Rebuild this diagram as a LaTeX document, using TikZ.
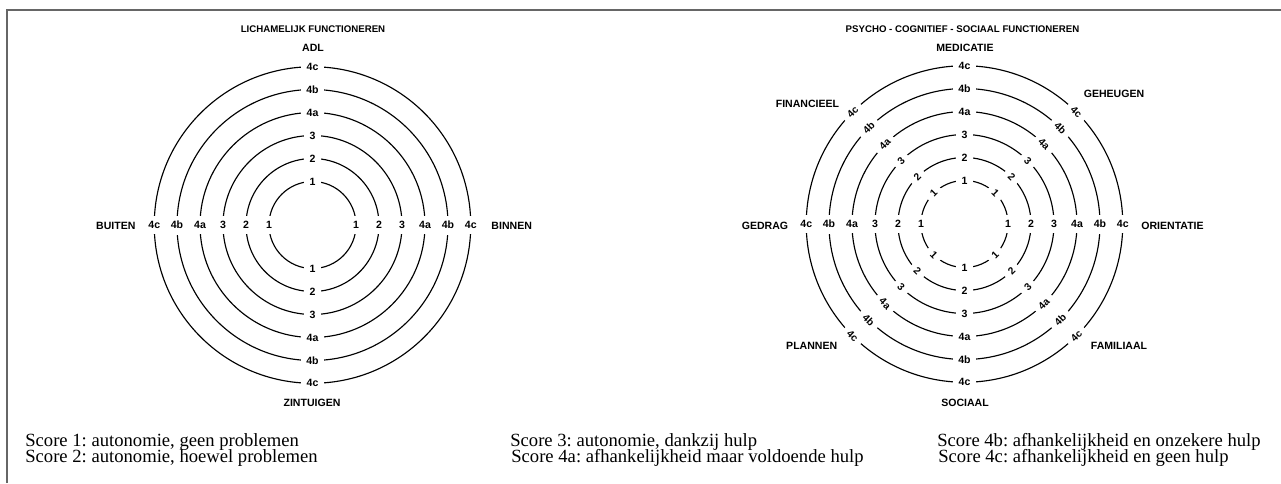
\documentclass[tikz,border=0pt]{standalone}
\usepackage{fontspec}
\setmainfont{Liberation Serif}
\newfontfamily\lblfont{Liberation Sans}
\frenchspacing

\begin{document}
\begin{tikzpicture}
\tikzstyle{sc}=[fill=white,inner sep=3.2pt,font=\lblfont\bfseries\fontsize{6}{7}\selectfont]
\tikzstyle{dg}=[sc,font=\lblfont\bfseries\fontsize{5.8}{6.5}\selectfont]
\tikzstyle{cat}=[inner sep=1pt,font=\lblfont\bfseries\fontsize{6}{7}\selectfont]
\tikzstyle{ttl}=[inner sep=1pt,font=\lblfont\bfseries\fontsize{5.5}{6.5}\selectfont]
\tikzstyle{leg}=[anchor=base west,inner sep=0pt,text height=6.9pt,text depth=2.2pt,font=\fontsize{10.6}{12}\selectfont]
\tikzstyle{ring}=[line width=0.65pt]
\useasboundingbox (0,0) rectangle (25.62,-9.66);
\draw[gray!80!black,line width=0.6pt] (0.14,-9.66) -- (0.14,-0.2) -- (25.62,-0.2);

% lichamelijk
\begin{scope}[shift={(6.25,-4.5)}]
\draw[ring] (0,0) circle (0.87); \draw[ring] (0,0) circle (1.33); \draw[ring] (0,0) circle (1.79);
\draw[ring] (0,0) circle (2.25); \draw[ring] (0,0) circle (2.71); \draw[ring] (0,0) circle (3.165);
\node (a1) at (90:0.87) [sc]{1}; \node (a2) at (0:0.87) [sc]{1}; \node (a3) at (270:0.87) [sc]{1}; \node (a4) at (180:0.87) [sc]{1};
\node (a5) at (90:1.33) [sc]{2}; \node (a6) at (0:1.33) [sc]{2}; \node (a7) at (270:1.33) [sc]{2}; \node (a8) at (180:1.33) [sc]{2};
\node (a9) at (90:1.79) [sc]{3}; \node (a10) at (0:1.79) [sc]{3}; \node (a11) at (270:1.79) [sc]{3}; \node (a12) at (180:1.79) [sc]{3};
\node (a13) at (90:2.25) [sc]{4a}; \node (a14) at (0:2.25) [sc]{4a}; \node (a15) at (270:2.25) [sc]{4a}; \node (a16) at (180:2.25) [sc]{4a};
\node (a17) at (90:2.71) [sc]{4b}; \node (a18) at (0:2.71) [sc]{4b}; \node (a19) at (270:2.71) [sc]{4b}; \node (a20) at (180:2.71) [sc]{4b};
\node (a21) at (90:3.165) [sc]{4c}; \node (a22) at (0:3.165) [sc]{4c}; \node (a23) at (270:3.165) [sc]{4c}; \node (a24) at (180:3.165) [sc]{4c};
\end{scope}

\node (t1) at (6.26,-0.586) [ttl]{LICHAMELIJK FUNCTIONEREN};
\node (adl) at (6.26,-0.954) [cat]{ADL};
\node (buiten) at (2.316,-4.514) [cat]{BUITEN};
\node (binnen) at (10.234,-4.514) [cat]{BINNEN};
\node (zint) at (6.24,-8.066) [cat]{ZINTUIGEN};

% psycho - cognitief - sociaal
\begin{scope}[shift={(19.29,-4.48)}]
\draw[ring] (0,0) circle (0.87); \draw[ring] (0,0) circle (1.33); \draw[ring] (0,0) circle (1.79);
\draw[ring] (0,0) circle (2.25); \draw[ring] (0,0) circle (2.71); \draw[ring] (0,0) circle (3.165);
\node (b1) at (90:0.87) [sc]{1}; \node (b2) at (45:0.87) [dg,rotate=-45]{1}; \node (b3) at (0:0.87) [sc]{1}; \node (b4) at (315:0.87) [dg,rotate=45]{1};
\node (b5) at (270:0.87) [sc]{1}; \node (b6) at (225:0.87) [dg,rotate=-45]{1}; \node (b7) at (180:0.87) [sc]{1}; \node (b8) at (135:0.87) [dg,rotate=45]{1};
\node (b9) at (90:1.33) [sc]{2}; \node (b10) at (45:1.33) [dg,rotate=-45]{2}; \node (b11) at (0:1.33) [sc]{2}; \node (b12) at (315:1.33) [dg,rotate=45]{2};
\node (b13) at (270:1.33) [sc]{2}; \node (b14) at (225:1.33) [dg,rotate=-45]{2}; \node (b15) at (180:1.33) [sc]{2}; \node (b16) at (135:1.33) [dg,rotate=45]{2};
\node (b17) at (90:1.79) [sc]{3}; \node (b18) at (45:1.79) [dg,rotate=-45]{3}; \node (b19) at (0:1.79) [sc]{3}; \node (b20) at (315:1.79) [dg,rotate=45]{3};
\node (b21) at (270:1.79) [sc]{3}; \node (b22) at (225:1.79) [dg,rotate=-45]{3}; \node (b23) at (180:1.79) [sc]{3}; \node (b24) at (135:1.79) [dg,rotate=45]{3};
\node (b25) at (90:2.25) [sc]{4a}; \node (b26) at (45:2.25) [dg,rotate=-45]{4a}; \node (b27) at (0:2.25) [sc]{4a}; \node (b28) at (315:2.25) [dg,rotate=45]{4a};
\node (b29) at (270:2.25) [sc]{4a}; \node (b30) at (225:2.25) [dg,rotate=-45]{4a}; \node (b31) at (180:2.25) [sc]{4a}; \node (b32) at (135:2.25) [dg,rotate=45]{4a};
\node (b33) at (90:2.71) [sc]{4b}; \node (b34) at (45:2.71) [dg,rotate=-45]{4b}; \node (b35) at (0:2.71) [sc]{4b}; \node (b36) at (315:2.71) [dg,rotate=45]{4b};
\node (b37) at (270:2.71) [sc]{4b}; \node (b38) at (225:2.71) [dg,rotate=-45]{4b}; \node (b39) at (180:2.71) [sc]{4b}; \node (b40) at (135:2.71) [dg,rotate=45]{4b};
\node (b41) at (90:3.165) [sc]{4c}; \node (b42) at (45:3.165) [dg,rotate=-45]{4c}; \node (b43) at (0:3.165) [sc]{4c}; \node (b44) at (315:3.165) [dg,rotate=45]{4c};
\node (b45) at (270:3.165) [sc]{4c}; \node (b46) at (225:3.165) [dg,rotate=-45]{4c}; \node (b47) at (180:3.165) [sc]{4c}; \node (b48) at (135:3.165) [dg,rotate=45]{4c};
\end{scope}

\node (t2) at (19.25,-0.586) [ttl]{PSYCHO - COGNITIEF - SOCIAAL FUNCTIONEREN};
\node (med) at (19.3,-0.954) [cat]{MEDICATIE};
\node (geh) at (22.28,-1.886) [cat]{GEHEUGEN};
\node (fin) at (16.15,-2.086) [cat]{FINANCIEEL};
\node (ged) at (15.3,-4.514) [cat]{GEDRAG};
\node (ori) at (23.45,-4.514) [cat]{ORIENTATIE};
\node (plan) at (16.234,-6.914) [cat]{PLANNEN};
\node (fam) at (22.38,-6.914) [cat]{FAMILIAAL};
\node (soc) at (19.3,-8.066) [cat]{SOCIAAL};

% legende
\node (s1) at (0.5,-8.92) [leg]{Score 1: autonomie, geen problemen};
\node (s2) at (0.5,-9.254) [leg]{Score 2: autonomie, hoewel problemen};
\node (s3) at (10.2,-8.92) [leg]{Score 3: autonomie, dankzij hulp};
\node (s4a) at (10.22,-9.254) [leg]{Score 4a: afhankelijkheid maar voldoende hulp};
\node (s4b) at (18.74,-8.92) [leg]{Score 4b: afhankelijkheid en onzekere hulp};
\node (s4c) at (18.76,-9.254) [leg]{Score 4c: afhankelijkheid en geen hulp};
\end{tikzpicture}
\end{document}
